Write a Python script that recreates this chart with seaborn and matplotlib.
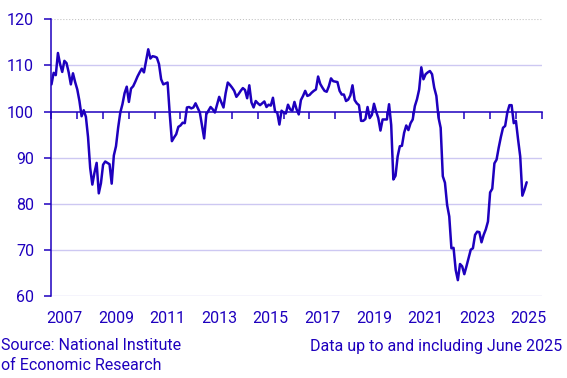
import numpy as np
import pandas as pd
import matplotlib
matplotlib.use('Agg')
import matplotlib.pyplot as plt
import seaborn as sns

# monthly values, Jan 2007 - Jun 2025
values_2007 = [105.9, 108.4, 107.9, 112.7, 110.3, 108.6, 111.0, 110.5, 108.5, 105.9, 108.3, 106.4]
values_2008 = [104.8, 102.3, 99.0, 100.3, 98.9, 94.5, 87.8, 84.2, 86.8, 88.9, 82.3, 84.5]
values_2009 = [88.5, 89.2, 88.9, 88.6, 84.4, 90.5, 92.5, 96.5, 99.8, 101.6, 104.0, 105.4]
values_2010 = [102.1, 105.0, 105.5, 106.5, 107.6, 108.5, 109.3, 108.5, 111.0, 113.5, 111.5, 112.0]
values_2011 = [111.9, 111.7, 110.3, 107.0, 105.9, 106.1, 106.3, 99.5, 93.6, 94.4, 95.1, 96.7]
values_2012 = [97.0, 97.6, 97.5, 100.9, 101.0, 100.7, 100.9, 101.8, 100.8, 99.8, 97.0, 94.2]
values_2013 = [99.4, 100.2, 101.0, 100.5, 99.8, 101.5, 103.2, 102.0, 100.9, 104.0, 106.3, 105.8]
values_2014 = [105.2, 104.5, 103.2, 103.8, 104.5, 105.1, 104.7, 102.9, 105.7, 102.0, 100.9, 102.3]
values_2015 = [101.8, 101.4, 101.8, 102.2, 101.0, 101.5, 101.3, 103.0, 100.0, 99.8, 97.2, 100.2]
values_2016 = [99.8, 99.6, 101.5, 100.5, 100.2, 102.1, 100.5, 99.4, 102.5, 103.4, 104.5, 103.4]
values_2017 = [103.6, 104.1, 104.5, 104.8, 107.6, 106.0, 105.2, 104.5, 104.3, 105.5, 107.2, 106.6]
values_2018 = [106.5, 106.4, 104.5, 103.7, 103.7, 102.3, 102.6, 103.5, 105.7, 102.5, 101.8, 101.4]
values_2019 = [98.0, 98.0, 98.4, 101.0, 98.6, 99.3, 101.7, 100.0, 98.6, 95.9, 98.3, 98.3]
values_2020 = [98.3, 101.6, 97.1, 85.3, 86.1, 90.3, 92.5, 92.6, 95.4, 97.0, 96.0, 97.5]
values_2021 = [98.3, 101.2, 102.7, 104.8, 109.6, 107.0, 108.1, 108.5, 108.8, 108.1, 105.2, 103.4]
values_2022 = [98.7, 96.5, 86.0, 84.6, 79.8, 77.3, 70.4, 70.5, 65.7, 63.5, 67.0, 66.5]
values_2023 = [64.8, 66.5, 68.3, 70.1, 70.4, 73.3, 74.0, 73.9, 71.7, 73.3, 74.5, 76.2]
values_2024 = [82.5, 83.3, 88.8, 89.6, 92.2, 94.5, 96.5, 96.9, 99.8, 101.4, 101.4, 97.5]
values_2025 = [98.0, 94.0, 90.3, 81.8, 83.1, 84.7]

values = (values_2007 + values_2008 + values_2009 + values_2010 + values_2011
          + values_2012 + values_2013 + values_2014 + values_2015 + values_2016
          + values_2017 + values_2018 + values_2019 + values_2020 + values_2021
          + values_2022 + values_2023 + values_2024 + values_2025)

year_labels = ['2007', '2009', '2011', '2013', '2015', '2017', '2019', '2021', '2023', '2025']
y_ticks = [60, 70, 80, 90, 100, 110, 120]

dates = pd.date_range('2007-01-01', periods=len(values), freq='MS')
df = pd.DataFrame({'date': dates, 'value': values})
df['year'] = df['date'].dt.year + (df['date'].dt.month - 1) / 12

blue = '#1e00be'
grid = '#cdc8f2'

sns.set_style('white')
plt.rcParams['font.family'] = ['Roboto', 'DejaVu Sans']

fig = plt.figure(figsize=(5.67, 3.78), dpi=100)
ax = fig.add_axes([0.0908, 0.2161, 0.8646, 0.7329])

sns.lineplot(data=df, x='year', y='value', ax=ax, color=blue, linewidth=1.8, zorder=3)

ax.set_xlim(2007, 2026)
ax.set_ylim(60, 120)
ax.set_xlabel('')
ax.set_ylabel('')

# horizontal grid
for y in [60, 70, 80, 90, 110]:
    ax.axhline(y, color=grid, linewidth=1, zorder=0)
ax.axhline(120, color='#c4c4c4', linewidth=0.8, linestyle=':', zorder=0)

ax.spines['top'].set_visible(False)
ax.spines['right'].set_visible(False)
ax.spines['left'].set_color(blue)
ax.spines['left'].set_linewidth(1.1)
ax.spines['bottom'].set_position(('data', 100))
ax.spines['bottom'].set_color(blue)
ax.spines['bottom'].set_linewidth(1.1)

ax.set_yticks(y_ticks)
ax.tick_params(axis='y', left=True, direction='out', length=5, width=1.1, color=blue,
               labelcolor=blue, labelsize=11.5, pad=7.5)

# year ticks hang from the 100 line
ax.set_xticks(range(2007, 2027))
ax.tick_params(axis='x', bottom=True, direction='out', length=5, width=1.1, color=blue,
               labelbottom=False)

# year labels at mid-year, below the plot
sec = ax.secondary_xaxis('bottom')
sec.set_xticks([int(l) + 0.5 for l in year_labels], labels=year_labels)
sec.spines['bottom'].set_visible(False)
sec.tick_params(length=0, pad=10.5, labelsize=11.5, labelcolor=blue)

fig.text(1 / 567, 1 - 350.5 / 378, 'Source: National Institute', color=blue,
         fontsize=11.5, ha='left', va='baseline')
fig.text(1 / 567, 1 - 370 / 378, 'of Economic Research', color=blue,
         fontsize=11.5, ha='left', va='baseline')
fig.text(562 / 567, 1 - 350.5 / 378, 'Data up to and including June 2025', color=blue,
         fontsize=11.5, ha='right', va='baseline')

fig.savefig('out.png', dpi=100)
